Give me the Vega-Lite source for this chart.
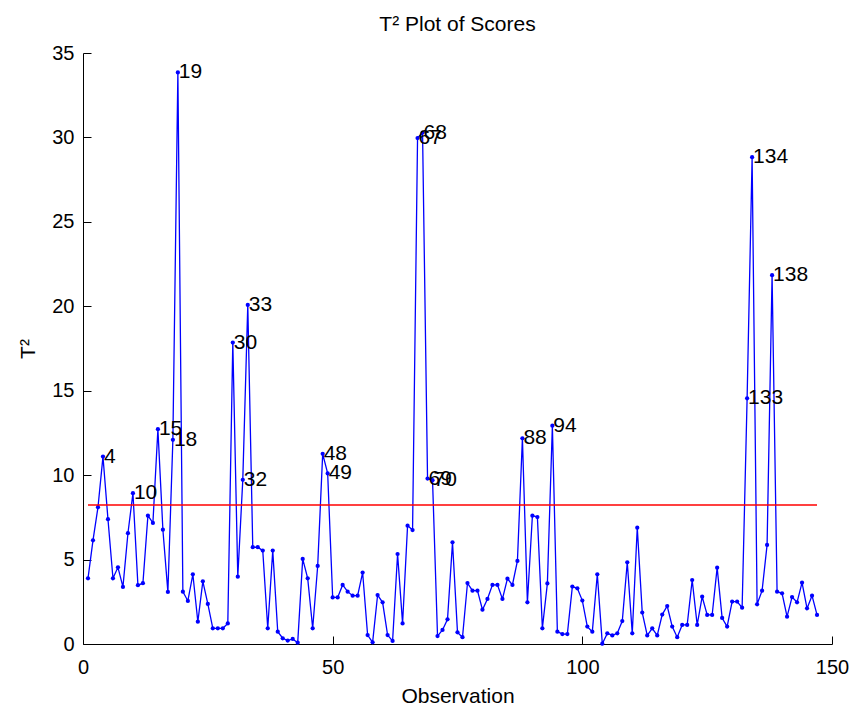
{
  "$schema": "https://vega.github.io/schema/vega-lite/v6.json",
  "autosize": "none",
  "width": 749,
  "height": 591,
  "padding": {"left": 83, "top": 53, "right": 21, "bottom": 62},
  "background": "white",
  "title": {"text": "T² Plot of Scores", "fontSize": 21, "fontWeight": "normal", "font": "Liberation Sans", "color": "black", "frame": "group", "anchor": "middle", "baseline": "alphabetic", "offset": -9},
  "config": {
    "view": {"stroke": null},
    "axis": {"grid": false, "domainColor": "black", "tickColor": "black", "labelColor": "black", "titleColor": "black", "labelFont": "Liberation Sans", "titleFont": "Liberation Sans", "labelFontSize": 20, "titleFontSize": 21, "titleFontWeight": "normal", "tickSize": -8, "domainWidth": 1, "tickWidth": 1}
  },
  "datasets": {
    "scores": [
      {"obs":1,"t2":3.89},{"obs":2,"t2":6.14},{"obs":3,"t2":8.10},{"obs":4,"t2":11.1},{"obs":5,"t2":7.39},
      {"obs":6,"t2":3.89},{"obs":7,"t2":4.54},{"obs":8,"t2":3.38},{"obs":9,"t2":6.56},{"obs":10,"t2":8.93},
      {"obs":11,"t2":3.48},{"obs":12,"t2":3.60},{"obs":13,"t2":7.60},{"obs":14,"t2":7.17},{"obs":15,"t2":12.72},
      {"obs":16,"t2":6.77},{"obs":17,"t2":3.08},{"obs":18,"t2":12.09},{"obs":19,"t2":33.85},{"obs":20,"t2":3.10},
      {"obs":21,"t2":2.55},{"obs":22,"t2":4.13},{"obs":23,"t2":1.32},{"obs":24,"t2":3.71},{"obs":25,"t2":2.37},
      {"obs":26,"t2":0.93},{"obs":27,"t2":0.93},{"obs":28,"t2":0.93},{"obs":29,"t2":1.22},{"obs":30,"t2":17.85},
      {"obs":31,"t2":3.99},{"obs":32,"t2":9.72},{"obs":33,"t2":20.08},{"obs":34,"t2":5.73},{"obs":35,"t2":5.73},
      {"obs":36,"t2":5.53},{"obs":37,"t2":0.93},{"obs":38,"t2":5.53},{"obs":39,"t2":0.73},{"obs":40,"t2":0.34},
      {"obs":41,"t2":0.20},{"obs":42,"t2":0.30},{"obs":43,"t2":0.08},{"obs":44,"t2":5.04},{"obs":45,"t2":3.89},
      {"obs":46,"t2":0.93},{"obs":47,"t2":4.62},{"obs":48,"t2":11.26},{"obs":49,"t2":10.1},{"obs":50,"t2":2.76},
      {"obs":51,"t2":2.76},{"obs":52,"t2":3.50},{"obs":53,"t2":3.10},{"obs":54,"t2":2.86},{"obs":55,"t2":2.86},
      {"obs":56,"t2":4.23},{"obs":57,"t2":0.53},{"obs":58,"t2":0.10},{"obs":59,"t2":2.90},{"obs":60,"t2":2.47},
      {"obs":61,"t2":0.53},{"obs":62,"t2":0.18},{"obs":63,"t2":5.33},{"obs":64,"t2":1.22},{"obs":65,"t2":7.01},
      {"obs":66,"t2":6.75},{"obs":67,"t2":29.96},{"obs":68,"t2":30.29},{"obs":69,"t2":9.8},{"obs":70,"t2":9.7},
      {"obs":71,"t2":0.47},{"obs":72,"t2":0.83},{"obs":73,"t2":1.46},{"obs":74,"t2":6.02},{"obs":75,"t2":0.69},
      {"obs":76,"t2":0.40},{"obs":77,"t2":3.61},{"obs":78,"t2":3.16},{"obs":79,"t2":3.16},{"obs":80,"t2":2.03},
      {"obs":81,"t2":2.67},{"obs":82,"t2":3.50},{"obs":83,"t2":3.50},{"obs":84,"t2":2.67},{"obs":85,"t2":3.87},
      {"obs":86,"t2":3.50},{"obs":87,"t2":4.92},{"obs":88,"t2":12.18},{"obs":89,"t2":2.47},{"obs":90,"t2":7.60},
      {"obs":91,"t2":7.52},{"obs":92,"t2":0.93},{"obs":93,"t2":3.59},{"obs":94,"t2":12.93},{"obs":95,"t2":0.73},
      {"obs":96,"t2":0.59},{"obs":97,"t2":0.59},{"obs":98,"t2":3.40},{"obs":99,"t2":3.30},{"obs":100,"t2":2.57},
      {"obs":101,"t2":1.03},{"obs":102,"t2":0.73},{"obs":103,"t2":4.13},{"obs":104,"t2":0.02},{"obs":105,"t2":0.63},
      {"obs":106,"t2":0.51},{"obs":107,"t2":0.63},{"obs":108,"t2":1.36},{"obs":109,"t2":4.84},{"obs":110,"t2":0.63},
      {"obs":111,"t2":6.89},{"obs":112,"t2":1.86},{"obs":113,"t2":0.51},{"obs":114,"t2":0.93},{"obs":115,"t2":0.51},
      {"obs":116,"t2":1.74},{"obs":117,"t2":2.25},{"obs":118,"t2":1.03},{"obs":119,"t2":0.40},{"obs":120,"t2":1.13},
      {"obs":121,"t2":1.13},{"obs":122,"t2":3.79},{"obs":123,"t2":1.13},{"obs":124,"t2":2.80},{"obs":125,"t2":1.72},
      {"obs":126,"t2":1.72},{"obs":127,"t2":4.52},{"obs":128,"t2":1.54},{"obs":129,"t2":1.03},{"obs":130,"t2":2.51},
      {"obs":131,"t2":2.51},{"obs":132,"t2":2.15},{"obs":133,"t2":14.55},{"obs":134,"t2":28.83},{"obs":135,"t2":2.35},
      {"obs":136,"t2":3.16},{"obs":137,"t2":5.87},{"obs":138,"t2":21.84},{"obs":139,"t2":3.10},{"obs":140,"t2":3.00},
      {"obs":141,"t2":1.62},{"obs":142,"t2":2.78},{"obs":143,"t2":2.47},{"obs":144,"t2":3.63},{"obs":145,"t2":2.11},
      {"obs":146,"t2":2.86},{"obs":147,"t2":1.72}
    ],
    "limit": [{"start": 1, "end": 147, "limit": 8.23}]
  },
  "layer": [
    {
      "data": {"name": "scores"},
      "mark": {"type": "line", "color": "#0000FF", "strokeWidth": 1.3, "point": {"filled": true, "color": "#0000FF", "size": 18}},
      "encoding": {
        "x": {"field": "obs", "type": "quantitative", "scale": {"domain": [0, 150], "nice": false}, "axis": {"values": [0, 50, 100, 150], "title": "Observation", "labelPadding": 21, "titlePadding": 8, "labelFlush": false}},
        "y": {"field": "t2", "type": "quantitative", "scale": {"domain": [0, 35], "nice": false}, "axis": {"values": [0, 5, 10, 15, 20, 25, 30, 35], "title": "T²", "labelPadding": 17, "titlePadding": 13}}
      }
    },
    {
      "data": {"name": "limit"},
      "mark": {"type": "rule", "color": "#FF0000", "strokeWidth": 1.5},
      "encoding": {
        "x": {"field": "start", "type": "quantitative"},
        "x2": {"field": "end"},
        "y": {"field": "limit", "type": "quantitative"}
      }
    },
    {
      "data": {"name": "scores"},
      "transform": [{"filter": "datum.t2 > 8.23"}],
      "mark": {"type": "text", "align": "left", "baseline": "middle", "fontSize": 21, "font": "Liberation Sans", "color": "black", "dx": 1},
      "encoding": {
        "x": {"field": "obs", "type": "quantitative"},
        "y": {"field": "t2", "type": "quantitative"},
        "text": {"field": "obs", "type": "nominal"}
      }
    }
  ]
}
